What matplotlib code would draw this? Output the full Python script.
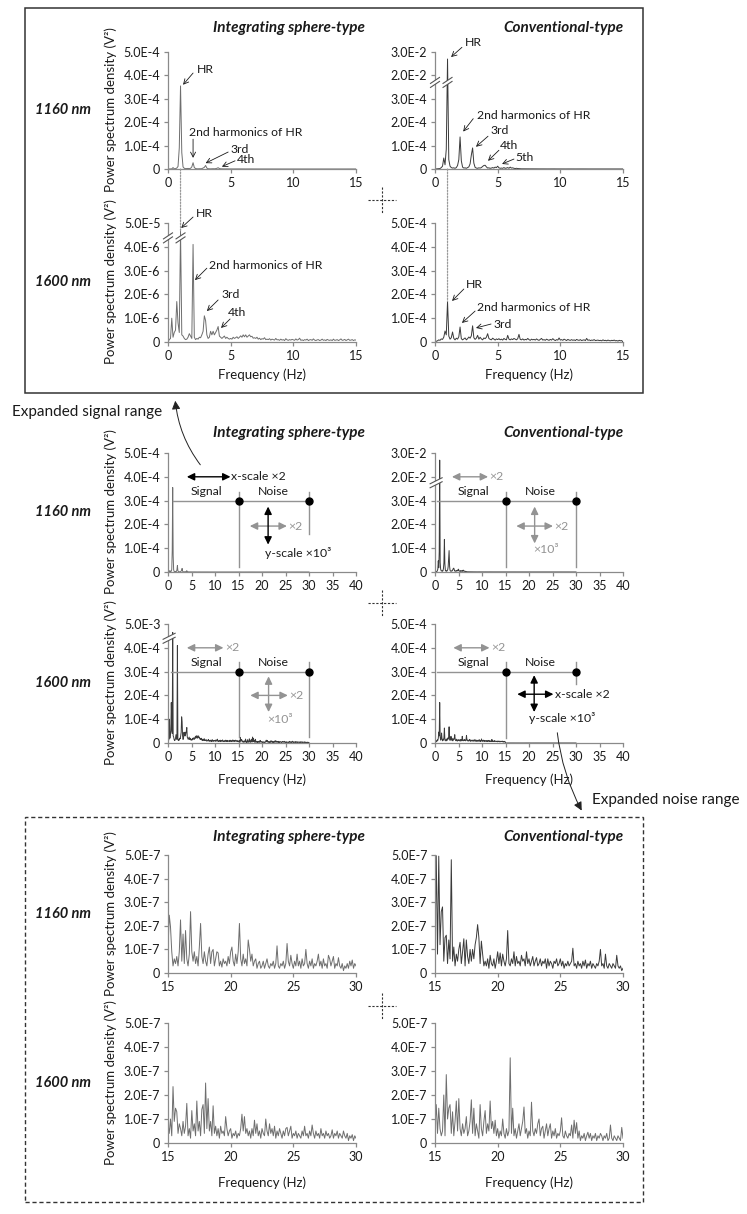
"""Power spectrum density panels: integrating sphere-type vs conventional-type."""

import numpy as np
import matplotlib

matplotlib.use("Agg")
import matplotlib.pyplot as plt
from matplotlib.lines import Line2D
from matplotlib.patches import ConnectionPatch, FancyArrowPatch, Polygon, Rectangle
from matplotlib.transforms import blended_transform_factory

plt.rcParams["font.family"] = ["Lato", "DejaVu Sans"]

W, H = 747, 1214
AXIS = "#8a8a8a"
TEXT = "#1a1a1a"
GRAY = "#939393"
SPH_COL = "#6e6e6e"
CONV_COL = "#3a3a3a"

TICK_FS = 9
LABEL_FS = 9.5
NOTE_FS = 8.8
TITLE_FS = 11
ROW_FS = 10.5

# ---------------------------------------------------------------- data
# PSD values in units of 1e-7 V^2, 0.1 Hz bins
UNIT = 1e-7
FREQ = np.round(np.arange(301) * 0.1, 1)   # 0.0 ... 30.0 Hz
SIGNAL_BAND = (0, 15)
NOISE_BAND = (15, 30)

# 0.0 - 14.9 Hz
SPH1160_LOW = [
    0, 2, 3, 5, 60, 10, 15, 40, 110, 900,
    3550, 700, 90, 30, 15, 20, 25, 15, 30, 90,
    270, 60, 20, 10, 8, 12, 10, 15, 40, 70,
    150, 40, 12, 8, 6, 10, 12, 8, 15, 30,
    55, 20, 8, 6, 5, 4, 6, 5, 4, 3,
    5, 4, 3, 4, 3, 2, 3, 4, 3, 2,
    3, 2, 2, 3, 2, 2, 3, 2, 2, 2,
    2, 1.5, 2, 1.2, 1.8, 1, 1.5, 2, 1.2, 1,
    1.5, 1, 1.8, 1.2, 1, 1.6, 1.1, 1.4, 1, 1.3,
    1, 1.5, 1.2, 0.9, 1.4, 1, 1.2, 0.8, 1.3, 1,
    1.2, 0.9, 1.4, 1, 0.8, 1.2, 1, 1.5, 0.9, 1.1,
    1, 1.3, 0.8, 1.1, 1.4, 0.9, 1, 1.2, 0.8, 1.3,
    0.9, 1.2, 1, 0.8, 1.5, 1, 1.1, 0.9, 1.3, 1,
    1.2, 0.8, 1, 1.4, 0.9, 1.1, 1.6, 1, 0.8, 1.2,
    1, 1.5, 0.9, 1.2, 1.8, 1, 1.3, 2.0, 1.1, 1.4,
]
CONV1160_LOW = [
    0, 5, 10, 15, 20, 60, 120, 470, 180, 850,
    270000, 400, 120, 60, 40, 50, 30, 60, 150, 400,
    1370, 350, 80, 40, 50, 30, 60, 90, 220, 600,
    900, 250, 70, 40, 30, 50, 40, 60, 110, 150,
    160, 90, 40, 50, 30, 40, 60, 40, 80, 60,
    120, 50, 30, 40, 30, 60, 30, 40, 60, 30,
    80, 40, 50, 30, 20, 30, 20, 15, 10, 8,
    8, 6, 7, 5, 6, 4, 5, 6, 4, 5,
    4, 5, 3, 4, 5, 3, 4, 3, 5, 4,
    3, 4, 3, 5, 3, 4, 2, 3, 4, 3,
    3, 2, 4, 3, 2, 3, 4, 2, 3, 2,
    3, 2, 2, 3, 2, 4, 2, 3, 2, 2,
    2, 3, 2, 2, 3, 2, 2, 3, 2, 2,
    2, 2, 3, 2, 2, 1.5, 2, 2.5, 2, 1.5,
    2, 1.5, 2, 2.5, 1.5, 2, 1.5, 2, 2.5, 1.5,
]
SPH1600_LOW = [
    0, 1, 1.5, 10, 2, 4, 5, 17, 8, 4,
    340, 3, 2.5, 1.5, 1, 1.2, 2, 3.5, 2.5, 1.5,
    41, 2, 1, 1.5, 1.2, 2, 1.8, 3, 4.5, 11,
    9, 3, 1.5, 2, 4.5, 3, 4.5, 3, 4, 5,
    6.5, 2.5, 2, 1.5, 2, 2.5, 1.5, 2, 1.5, 1.2,
    1.5, 1.2, 2, 1.5, 1.8, 2.2, 1.5, 2, 2.6, 2,
    3, 2.2, 3, 2, 2.5, 3, 2.2, 2.4, 1.6, 1.8,
    1.5, 2, 1.2, 1.6, 1, 1.4, 1.2, 1.8, 1, 1.2,
    1, 1.4, 0.8, 1.2, 1, 0.8, 1.5, 0.9, 1, 0.7,
    1.2, 0.8, 1, 0.6, 1.4, 0.9, 0.7, 1, 0.8, 1.1,
    0.9, 0.7, 1.3, 0.8, 1, 1.6, 0.7, 0.9, 0.6, 1,
    0.8, 1.2, 0.6, 0.9, 1, 0.7, 1.3, 0.8, 0.6, 0.9,
    1, 0.6, 0.8, 1.2, 0.7, 0.9, 0.6, 1.1, 0.8, 0.7,
    0.9, 0.6, 1.2, 0.7, 0.8, 1, 0.6, 0.9, 1.3, 0.7,
    0.8, 1.1, 0.6, 0.9, 1.2, 0.7, 0.8, 1, 0.6, 0.9,
]
CONV1600_LOW = [
    0, 30, 50, 90, 70, 130, 110, 200, 460, 300,
    1700, 250, 120, 180, 420, 150, 90, 160, 120, 220,
    630, 140, 90, 130, 170, 90, 140, 210, 160, 260,
    680, 180, 110, 160, 280, 120, 200, 130, 90, 170,
    140, 200, 350, 150, 110, 90, 160, 120, 80, 130,
    100, 140, 90, 120, 80, 150, 110, 90, 280, 120,
    90, 130, 100, 150, 120, 90, 140, 320, 110, 90,
    130, 80, 110, 90, 150, 100, 70, 120, 90, 110,
    80, 130, 90, 70, 110, 150, 80, 100, 70, 120,
    90, 70, 110, 80, 140, 90, 60, 100, 80, 170,
    80, 100, 70, 120, 90, 60, 110, 80, 70, 100,
    70, 90, 60, 110, 80, 70, 100, 60, 80, 90,
    60, 150, 70, 90, 60, 80, 70, 100, 60, 70,
    80, 60, 70, 50, 90, 60, 70, 50, 80, 60,
    50, 70, 60, 80, 50, 60, 40, 70, 50, 60,
]

# 15.0 - 30.0 Hz
SPH1160_HIGH = [
    1.0, 2.45, 1.95, 0.9, 0.3, 0.6, 0.4, 0.7, 0.3, 0.9,
    2.25, 0.5, 1.65, 0.4, 1.8, 0.6, 0.3, 0.8, 2.6, 0.9,
    0.5, 0.9, 0.4, 0.7, 0.3, 1.1, 2.1, 0.7, 0.4, 0.9,
    0.5, 0.3, 0.8, 1.1, 0.4, 0.9, 1.0, 0.3, 0.6, 0.9,
    0.85, 0.3, 0.5, 0.25, 0.6, 0.4, 0.5, 0.3, 0.7, 0.4,
    0.9, 1.1, 0.5, 0.3, 0.8, 0.4, 0.9, 2.1, 0.6, 0.3,
    0.8, 0.4, 0.6, 0.3, 1.4, 1.0, 0.5, 0.8, 0.3, 0.5,
    0.6, 0.2, 0.4, 0.5, 0.2, 0.3, 0.5, 0.2, 0.4, 0.6,
    0.3, 0.2, 0.4, 0.3, 0.5, 0.2, 0.4, 1.15, 0.3, 0.2,
    0.4, 0.3, 0.5, 0.2, 0.4, 1.25, 0.5, 0.3, 0.75, 0.4,
    0.2, 0.5, 0.3, 0.8, 0.3, 0.5, 0.2, 0.6, 0.3, 0.4,
    1.0, 0.4, 0.2, 0.5, 0.3, 0.6, 0.2, 0.4, 0.3, 0.5,
    0.8, 0.3, 0.5, 0.2, 0.6, 0.3, 0.4, 0.2, 0.75, 0.6,
    0.3, 0.5, 0.7, 0.2, 0.4, 0.3, 0.65, 0.3, 0.2, 0.4,
    0.1, 0.3, 0.2, 0.4, 0.2, 0.5, 0.3, 0.55, 0.2, 0.4,
    0.3,
]
CONV1160_HIGH = [
    1.0, 4.97, 0.8, 4.95, 1.2, 2.6, 2.8, 0.5, 1.5, 1.6,
    0.4, 1.4, 0.6, 4.8, 0.5, 1.1, 0.3, 0.8, 0.5, 1.0,
    1.3, 0.4, 0.9, 1.45, 0.3, 1.4, 0.7, 0.4, 1.0, 0.5,
    1.0, 0.6, 1.2, 1.5, 2.05, 1.5, 0.4, 1.35, 0.8, 0.3,
    0.5, 0.3, 0.6, 0.2, 0.75, 0.4, 0.3, 0.6, 0.2, 0.5,
    0.9, 0.4, 0.85, 0.3, 0.8, 0.5, 0.3, 0.6, 1.8, 0.4,
    0.3, 0.6, 0.4, 0.9, 0.3, 0.7, 0.4, 0.5, 0.3, 0.75,
    0.5, 0.6, 0.3, 0.9, 0.4, 0.6, 0.3, 0.5, 0.7, 0.3,
    0.5, 0.65, 0.3, 0.4, 0.6, 0.3, 0.5, 0.4, 0.6, 0.2,
    0.6, 0.3, 0.5, 0.4, 0.2, 0.5, 0.4, 0.6, 0.3, 0.4,
    0.6, 0.3, 0.5, 0.2, 0.4, 0.3, 0.5, 0.3, 0.4, 0.5,
    1.05, 0.3, 0.4, 0.2, 0.5, 0.3, 0.4, 0.2, 0.5, 0.3,
    0.55, 0.2, 0.4, 0.3, 0.5, 0.2, 0.4, 0.3, 0.2, 0.4,
    0.3, 0.5, 1.0, 0.3, 0.4, 0.2, 0.8, 0.3, 0.2, 0.4,
    0.3, 0.2, 0.4, 0.3, 0.2, 0.75, 0.3, 0.2, 0.3, 0.1,
    0.2,
]
SPH1600_HIGH = [
    0.8, 0.4, 1.0, 0.3, 2.35, 0.9, 1.45, 1.3, 0.4, 0.8,
    0.6, 0.3, 0.9, 0.4, 0.7, 1.65, 0.3, 0.6, 0.2, 1.35,
    0.5, 0.8, 0.3, 1.75, 0.5, 0.9, 0.3, 1.4, 1.6, 0.4,
    2.5, 0.6, 1.85, 0.5, 0.9, 0.3, 1.55, 0.4, 0.7, 0.3,
    0.6, 0.2, 0.7, 0.4, 0.5, 0.3, 1.1, 0.6, 0.3, 0.5,
    0.6, 0.2, 0.4, 0.3, 0.5, 0.2, 0.4, 0.3, 0.6, 1.2,
    0.5, 1.1, 0.4, 0.6, 0.3, 0.5, 0.2, 0.6, 0.3, 0.95,
    0.4, 0.8, 0.3, 0.5, 0.2, 0.6, 0.4, 0.3, 1.0, 0.5,
    0.3, 0.8, 0.4, 0.6, 0.3, 0.7, 0.2, 0.5, 0.3, 0.6,
    0.4, 0.2, 0.5, 0.3, 0.6, 0.65, 0.3, 0.5, 0.7, 0.2,
    0.4, 0.3, 0.5, 0.2, 0.4, 0.3, 0.2, 0.5, 0.3, 0.7,
    0.3, 0.4, 0.2, 0.5, 0.3, 0.75, 0.4, 0.2, 0.5, 0.3,
    0.4, 0.2, 0.6, 0.3, 0.4, 0.2, 0.5, 0.3, 0.4, 0.2,
    0.3, 0.55, 0.2, 0.4, 0.3, 0.5, 0.2, 0.4, 0.3, 0.2,
    0.5, 0.3, 0.2, 0.4, 0.1, 0.3, 0.2, 0.35, 0.1, 0.3,
    0.2,
]
CONV1600_HIGH = [
    0.7, 1.6, 0.4, 1.45, 0.6, 0.3, 0.5, 2.0, 0.3, 2.85,
    1.0, 1.45, 1.6, 0.4, 1.3, 0.3, 0.9, 1.75, 0.5, 1.85,
    0.6, 0.3, 0.8, 0.4, 0.6, 1.1, 0.3, 0.5, 0.9, 1.8,
    0.4, 1.45, 0.3, 0.8, 0.5, 0.2, 1.6, 0.6, 0.3, 0.9,
    1.35, 0.4, 0.8, 0.5, 1.75, 0.6, 0.9, 0.4, 0.95, 0.3,
    0.6, 0.2, 0.5, 0.3, 1.0, 0.4, 0.2, 0.6, 0.3, 0.5,
    3.55, 0.4, 1.45, 0.3, 0.6, 0.2, 0.5, 0.8, 0.3, 0.6,
    0.9, 1.5, 0.4, 0.6, 0.2, 0.5, 0.3, 1.7, 0.5, 0.3,
    0.6, 0.4, 0.8, 1.0, 0.3, 0.6, 0.7, 0.2, 0.5, 0.8,
    0.3, 0.6, 0.8, 0.2, 0.5, 0.3, 0.6, 0.2, 0.4, 0.3,
    0.5, 1.05, 0.3, 0.2, 0.5, 0.3, 0.2, 0.4, 0.3, 0.75,
    0.2, 0.95, 0.4, 0.85, 0.2, 0.5, 0.1, 0.3, 0.2, 0.4,
    0.1, 0.3, 0.45, 0.2, 0.4, 0.1, 0.3, 0.2, 0.4, 0.1,
    0.3, 0.2, 0.4, 0.3, 0.1, 0.3, 0.2, 0.4, 0.1, 0.2,
    0.75, 0.2, 0.1, 0.3, 0.2, 0.1, 0.3, 0.2, 0.1, 0.65,
    0.2,
]

# y axes: tick values and labels
LIN_TICKS = [0, 1e-4, 2e-4, 3e-4, 4e-4, 5e-4]
LIN_LABELS = ["0", "1.0E-4", "2.0E-4", "3.0E-4", "4.0E-4", "5.0E-4"]
CONV1160_TICKS = [0, 1e-4, 2e-4, 3e-4, 2e-2, 3e-2]
CONV1160_LABELS = ["0", "1.0E-4", "2.0E-4", "3.0E-4", "2.0E-2", "3.0E-2"]
SPH1600_TICKS = [0, 1e-6, 2e-6, 3e-6, 4e-6, 5e-5]
SPH1600_LABELS = ["0", "1.0E-6", "2.0E-6", "3.0E-6", "4.0E-6", "5.0E-5"]
SPH1600_MID_LABELS = ["0", "1.0E-4", "2.0E-4", "3.0E-4", "4.0E-4", "5.0E-3"]
NOISE_TICKS = [0, 1e-7, 2e-7, 3e-7, 4e-7, 5e-7]
NOISE_LABELS = ["0", "1.0E-7", "2.0E-7", "3.0E-7", "4.0E-7", "5.0E-7"]

# broken axes: (data breakpoints, position in tick steps)
CONV1160_BREAK = ([-1e-4, 0, 3.5e-4, 2e-2, 3e-2, 1.3e-1], [-1, 0, 3.5, 4, 5, 15])
SPH1600_BREAK = ([-1e-6, 0, 4.25e-6, 2.5e-5, 5e-5, 1.5e-4], [-1, 0, 4.25, 4.45, 5, 7.2])

for arr in (SPH1160_LOW, CONV1160_LOW, SPH1600_LOW, CONV1600_LOW):
    assert len(arr) == 150
for arr in (SPH1160_HIGH, CONV1160_HIGH, SPH1600_HIGH, CONV1600_HIGH):
    assert len(arr) == 151

SPH1160 = np.array(SPH1160_LOW + SPH1160_HIGH) * UNIT
CONV1160 = np.array(CONV1160_LOW + CONV1160_HIGH) * UNIT
SPH1600 = np.array(SPH1600_LOW + SPH1600_HIGH) * UNIT
CONV1600 = np.array(CONV1600_LOW + CONV1600_HIGH) * UNIT

# ---------------------------------------------------------------- helpers
fig = plt.figure(figsize=(W / 100, H / 100), dpi=100, facecolor="white")


def px(x, y):
    return (x / W, 1 - y / H)


def ftext(x, y, s, **kw):
    kw.setdefault("color", TEXT)
    fig.text(x / W, 1 - y / H, s, **kw)


def add_axes(x0, y0, x1, y1):
    return fig.add_axes([x0 / W, 1 - y1 / H, (x1 - x0) / W, (y1 - y0) / H])


def spectrum(rect, psd, color, xlim, xticks, yticks, ylabels, brk=None):
    ax = add_axes(*rect)
    if brk is not None:
        dpts, spts = brk
        ax.set_yscale("function", functions=(
            lambda v: np.interp(v, dpts, spts),
            lambda d: np.interp(d, spts, dpts),
        ))
    ax.plot(FREQ, psd, color=color, lw=0.7)
    ax.set_xlim(*xlim)
    ax.set_ylim(yticks[0], yticks[-1])
    ax.set_xticks(xticks, labels=[str(t) for t in xticks])
    ax.set_yticks(yticks, labels=ylabels)
    ax.minorticks_off()
    for s in ("top", "right"):
        ax.spines[s].set_visible(False)
    for s in ("left", "bottom"):
        ax.spines[s].set_color(AXIS)
        ax.spines[s].set_linewidth(0.9)
    ax.tick_params(direction="out", length=3, width=0.9, color=AXIS,
                   labelsize=TICK_FS, labelcolor=TEXT, pad=2.5)
    ax.patch.set_visible(False)
    return ax


def break_mark(ax, xf, yf, w=9, h=6, gap=4):
    bb = ax.get_position()
    aw, ah = bb.width * W, bb.height * H
    dx, dy, g = w / 2 / aw, h / 2 / ah, gap / 2 / ah
    ax.add_patch(Polygon(
        [(xf - dx, yf - g - dy), (xf + dx, yf - g + dy),
         (xf + dx, yf + g + dy), (xf - dx, yf + g - dy)],
        closed=True, transform=ax.transAxes, facecolor="white",
        edgecolor="none", clip_on=False, zorder=5))
    for s in (-g, g):
        ax.plot([xf - dx, xf + dx], [yf + s - dy, yf + s + dy], transform=ax.transAxes,
                color="#555555", lw=0.8, clip_on=False, zorder=6)


def call_out(ax, label, txt, tail, head):
    tr = blended_transform_factory(ax.transData, ax.transAxes)
    ax.text(*txt, label, transform=tr, fontsize=NOTE_FS, color=TEXT, ha="left", va="center")
    ax.annotate("", xy=head, xytext=tail, xycoords=tr, textcoords=tr,
                arrowprops=dict(arrowstyle="->,head_length=0.35,head_width=0.18",
                                lw=0.6, color=TEXT, shrinkA=0, shrinkB=0))


def dbl_arrow(ax, p0, p1, color):
    tr = blended_transform_factory(ax.transData, ax.transAxes)
    ax.annotate("", xy=(p1[0], p1[1] / 5), xytext=(p0[0], p0[1] / 5),
                xycoords=tr, textcoords=tr,
                arrowprops=dict(arrowstyle="<|-|>,head_length=0.45,head_width=0.22",
                                mutation_scale=10, lw=1.0, color=color,
                                shrinkA=0, shrinkB=0))


def note(ax, x, y, s, color=TEXT, ha="left"):
    tr = blended_transform_factory(ax.transData, ax.transAxes)
    ax.text(x, y / 5, s, transform=tr, fontsize=NOTE_FS, color=color, ha=ha, va="center")


def bands(ax, x_start, top, bot15, bot30, y_line=3, y_txt=3.4):
    tr = blended_transform_factory(ax.transData, ax.transAxes)
    s0, s1 = SIGNAL_BAND
    n0, n1 = NOISE_BAND
    ax.plot([x_start, n1], [y_line / 5] * 2, transform=tr, color=GRAY, lw=1.0)
    ax.plot([n0, n0], [top / 5, bot15 / 5], transform=tr, color=GRAY, lw=1.0)
    ax.plot([n1, n1], [top / 5, bot30 / 5], transform=tr, color=GRAY, lw=1.0)
    ax.plot([n0, n1], [y_line / 5] * 2, "o", transform=tr, color="black", ms=5)
    note(ax, (s0 + s1) / 2 + 0.6, y_txt, "Signal", ha="center")
    note(ax, (n0 + n1) / 2, y_txt, "Noise", ha="center")


LEFT = (168, 356)
RIGHT = (435, 623)

# ---------------------------------------------------------------- top box (signal range)
a_l = spectrum((LEFT[0], 52, LEFT[1], 169), SPH1160, SPH_COL, (0, 15), [0, 5, 10, 15],
               LIN_TICKS, LIN_LABELS)
a_r = spectrum((RIGHT[0], 52, RIGHT[1], 169), CONV1160, CONV_COL, (0, 15), [0, 5, 10, 15],
               CONV1160_TICKS, CONV1160_LABELS, brk=CONV1160_BREAK)
b_l = spectrum((LEFT[0], 223, LEFT[1], 342), SPH1600, SPH_COL, (0, 15), [0, 5, 10, 15],
               SPH1600_TICKS, SPH1600_LABELS, brk=SPH1600_BREAK)
b_r = spectrum((RIGHT[0], 223, RIGHT[1], 342), CONV1600, CONV_COL, (0, 15), [0, 5, 10, 15],
               LIN_TICKS, LIN_LABELS)

hr_freq = FREQ[np.argmax(SPH1160)]
break_mark(a_r, 0, 0.74)
break_mark(a_r, hr_freq / 15, 0.74)
break_mark(b_l, 0, 0.875)
break_mark(b_l, hr_freq / 15, 0.875)

call_out(a_l, "HR", (2.3, 0.85), (2.0, 0.82), (1.2, 0.72))
call_out(a_l, "2nd harmonics of HR", (1.65, 0.31), (2.0, 0.255), (2.0, 0.095))
call_out(a_l, "3rd", (4.95, 0.17), (4.8, 0.145), (3.0, 0.05))
call_out(a_l, "4th", (5.5, 0.077), (5.35, 0.07), (4.3, 0.02))

call_out(a_r, "HR", (2.4, 1.085), (2.15, 1.04), (1.28, 0.957))
call_out(a_r, "2nd harmonics of HR", (3.35, 0.46), (3.05, 0.43), (2.25, 0.32))
call_out(a_r, "3rd", (4.4, 0.333), (4.23, 0.28), (3.27, 0.19))
call_out(a_r, "4th", (5.2, 0.197), (5.1, 0.16), (4.23, 0.07))
call_out(a_r, "5th", (6.45, 0.1), (6.3, 0.085), (5.35, 0.043))

call_out(b_l, "HR", (2.25, 1.084), (2.0, 1.05), (1.05, 0.958))
call_out(b_l, "2nd harmonics of HR", (3.3, 0.647), (3.1, 0.62), (2.15, 0.52))
call_out(b_l, "3rd", (4.3, 0.395), (4.0, 0.353), (3.1, 0.26))
call_out(b_l, "4th", (4.75, 0.252), (4.95, 0.193), (4.23, 0.118))

call_out(b_r, "HR", (2.5, 0.479), (2.3, 0.445), (1.36, 0.345))
call_out(b_r, "2nd harmonics of HR", (3.35, 0.294), (3.2, 0.26), (2.15, 0.16))
call_out(b_r, "3rd", (4.65, 0.151), (4.47, 0.151), (3.27, 0.118))

# dotted guides at the heart-rate frequency
for top_ax, bot_ax, psd in ((a_l, b_l, SPH1600), (a_r, b_r, CONV1600)):
    fig.add_artist(ConnectionPatch(
        xyA=(hr_freq, 0), coordsA=top_ax.transData,
        xyB=(hr_freq, psd.max()), coordsB=bot_ax.transData,
        color="#9a9a9a", lw=0.9, linestyle=(0, (1.2, 1.2))))

# ---------------------------------------------------------------- middle (full range)
x40 = list(range(0, 45, 5))
m1_l = spectrum((LEFT[0], 453, LEFT[1], 572), SPH1160, SPH_COL, (0, 40), x40,
                LIN_TICKS, LIN_LABELS)
m1_r = spectrum((RIGHT[0], 453, RIGHT[1], 572), CONV1160, CONV_COL, (0, 40), x40,
                CONV1160_TICKS, CONV1160_LABELS, brk=CONV1160_BREAK)
m2_l = spectrum((LEFT[0], 624, LEFT[1], 743), SPH1600, CONV_COL, (0, 40), x40,
                SPH1600_TICKS, SPH1600_MID_LABELS, brk=SPH1600_BREAK)
m2_r = spectrum((RIGHT[0], 624, RIGHT[1], 743), CONV1600, CONV_COL, (0, 40), x40,
                LIN_TICKS, LIN_LABELS)
break_mark(m1_r, 0.006, 0.75, w=12)
break_mark(m2_l, 0.006, 0.88, w=12)

# 1160 nm, integrating sphere
bands(m1_l, 1.0, 3.35, 0.2, 1.6)
dbl_arrow(m1_l, (4.0, 4.0), (13.3, 4.0), "black")
note(m1_l, 13.5, 4.0, "x-scale \u00d72")
dbl_arrow(m1_l, (17.4, 1.93), (25.3, 1.93), GRAY)
note(m1_l, 25.6, 1.93, "\u00d72", GRAY)
dbl_arrow(m1_l, (21.3, 2.75), (21.3, 1.15), "black")
note(m1_l, 20.6, 0.8, "y-scale \u00d710\u00b3")

# 1160 nm, conventional
bands(m1_r, 0.5, 3.35, 0.2, 0.2)
dbl_arrow(m1_r, (3.6, 4.0), (11.3, 4.0), GRAY)
note(m1_r, 11.6, 4.0, "\u00d72", GRAY)
dbl_arrow(m1_r, (17.3, 1.93), (25.1, 1.93), GRAY)
note(m1_r, 25.4, 1.93, "\u00d72", GRAY)
dbl_arrow(m1_r, (21.2, 2.75), (21.2, 1.2), GRAY)
note(m1_r, 20.9, 0.93, "\u00d710\u00b3", GRAY)

# 1600 nm, integrating sphere
bands(m2_l, 0.7, 3.4, 0.25, 0.25)
dbl_arrow(m2_l, (4.0, 4.0), (11.8, 4.0), GRAY)
note(m2_l, 12.1, 4.0, "\u00d72", GRAY)
dbl_arrow(m2_l, (17.5, 2.0), (25.5, 2.0), GRAY)
note(m2_l, 25.8, 2.0, "\u00d72", GRAY)
dbl_arrow(m2_l, (21.4, 2.8), (21.4, 1.3), GRAY)
note(m2_l, 21.2, 1.0, "\u00d710\u00b3", GRAY)

# 1600 nm, conventional
bands(m2_r, 0.5, 3.4, 0.2, 2.5)
dbl_arrow(m2_r, (3.9, 4.0), (11.6, 4.0), GRAY)
note(m2_r, 11.9, 4.0, "\u00d72", GRAY)
dbl_arrow(m2_r, (17.5, 2.05), (25.2, 2.05), "black")
note(m2_r, 25.6, 2.05, "x-scale \u00d72")
dbl_arrow(m2_r, (21.1, 2.85), (21.1, 1.3), "black")
note(m2_r, 20.1, 1.03, "y-scale \u00d710\u00b3")

# ---------------------------------------------------------------- bottom box (noise range)
x30 = [15, 20, 25, 30]
n1_l = spectrum((LEFT[0], 855, LEFT[1], 973), SPH1160, SPH_COL, (15, 30), x30,
                NOISE_TICKS, NOISE_LABELS)
n1_r = spectrum((RIGHT[0], 855, RIGHT[1], 973), CONV1160, CONV_COL, (15, 30), x30,
                NOISE_TICKS, NOISE_LABELS)
n2_l = spectrum((LEFT[0], 1023, LEFT[1], 1143), SPH1600, SPH_COL, (15, 30), x30,
                NOISE_TICKS, NOISE_LABELS)
n2_r = spectrum((RIGHT[0], 1023, RIGHT[1], 1143), CONV1600, SPH_COL, (15, 30), x30,
                NOISE_TICKS, NOISE_LABELS)

# ---------------------------------------------------------------- labels & frames
ylab = "Power spectrum density (V\u00b2)"
row_centres = [(110, 282), (512, 683), (914, 1083)]
title_y = [28, 433, 837]
xlabel_y = [375, 780, 1183]
for (r1, r2), ty, xy in zip(row_centres, title_y, xlabel_y):
    ftext(365, ty, "Integrating sphere-type", ha="right", va="center",
          fontsize=TITLE_FS, fontweight="bold", fontstyle="italic")
    ftext(623, ty, "Conventional-type", ha="right", va="center",
          fontsize=TITLE_FS, fontweight="bold", fontstyle="italic")
    ftext(63, r1, "1160 nm", ha="center", va="center", fontsize=ROW_FS,
          fontweight="bold", fontstyle="italic")
    ftext(63, r2, "1600 nm", ha="center", va="center", fontsize=ROW_FS,
          fontweight="bold", fontstyle="italic")
    for yc in (r1, r2):
        ftext(111, yc, ylab, ha="center", va="center", rotation=90, fontsize=LABEL_FS)
    for xc in (sum(LEFT) / 2, sum(RIGHT) / 2):
        ftext(xc, xy, "Frequency (Hz)", ha="center", va="center", fontsize=LABEL_FS)

fig.add_artist(Rectangle(px(25, 393), 618 / W, 385 / H, transform=fig.transFigure,
                         fill=False, ec="#333333", lw=1.1))
fig.add_artist(Rectangle(px(25, 1202), 618 / W, 385 / H, transform=fig.transFigure,
                         fill=False, ec="#333333", lw=1.0, ls=(0, (3, 2))))

for cy in (200, 603, 1006):
    fig.add_artist(Line2D([368 / W, 396 / W], [1 - cy / H] * 2, transform=fig.transFigure,
                          color="#333333", lw=0.8, ls=(0, (2, 1.5))))
    fig.add_artist(Line2D([382 / W] * 2, [1 - (cy - 13) / H, 1 - (cy + 13) / H],
                          transform=fig.transFigure, color="#333333", lw=0.8,
                          ls=(0, (2, 1.5))))

ftext(12, 412, "Expanded signal range", ha="left", va="center", fontsize=11)
ftext(592, 800, "Expanded noise range", ha="left", va="center", fontsize=11)
fig.add_artist(FancyArrowPatch(px(202, 467), px(175, 398), transform=fig.transFigure,
                               arrowstyle="-|>,head_length=0.5,head_width=0.25",
                               mutation_scale=10, connectionstyle="arc3,rad=-0.15",
                               lw=0.7, color="#222222"))
fig.add_artist(FancyArrowPatch(px(557, 730), px(583, 813), transform=fig.transFigure,
                               arrowstyle="-|>,head_length=0.5,head_width=0.25",
                               mutation_scale=10, connectionstyle="arc3,rad=0.1",
                               lw=0.7, color="#222222"))

fig.savefig("out.png", dpi=100, facecolor="white")
